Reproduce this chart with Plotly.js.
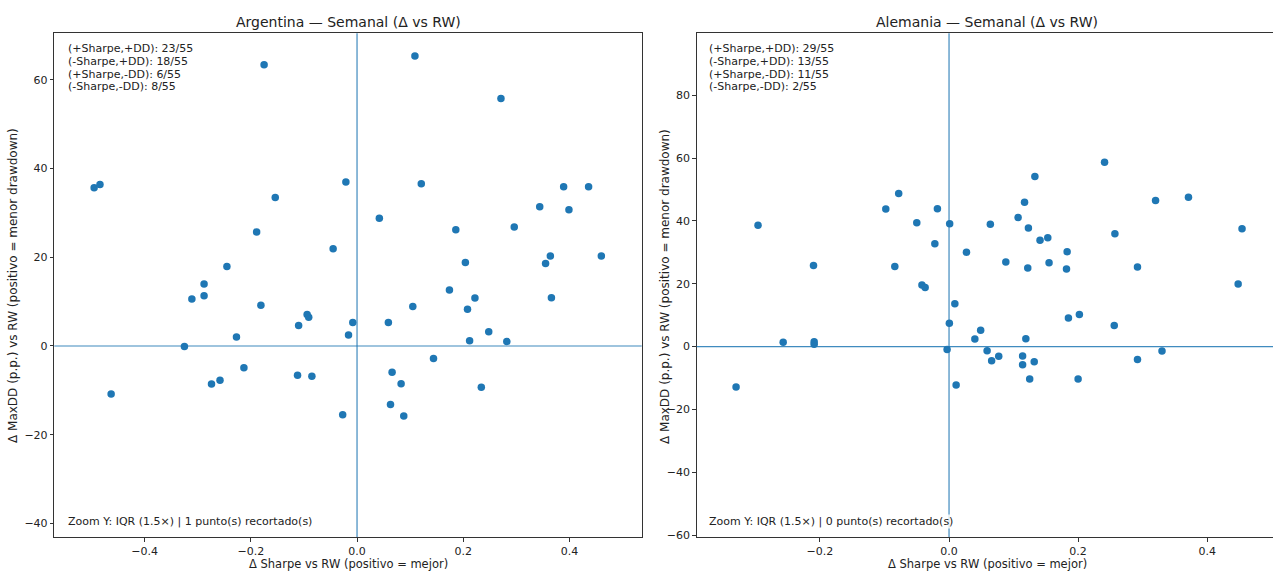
<!DOCTYPE html>
<html>
<head>
<meta charset="utf-8">
<script src="https://cdn.plot.ly/plotly-3.0.1.min.js"></script>
<style>html,body{margin:0;padding:0;background:#fff;}#chart{width:1273px;height:572px;}</style>
</head>
<body>
<div id="chart"></div>
<script>
// ---- Data ----
const argDeltaSharpe = [-0.495,-0.484,-0.175,-0.021,-0.154,-0.189,-0.045,-0.245,-0.288,
  0.109,0.271,0.121,0.042,0.389,0.436,0.344,0.399,0.186,0.296,0.364,0.355,0.460,0.204,
  -0.288,-0.311,-0.181,-0.110,-0.094,-0.091,-0.008,-0.016,-0.227,-0.325,
  -0.213,-0.258,-0.274,-0.112,-0.085,-0.463,-0.027,
  0.059,0.105,0.174,0.222,0.208,0.366,0.248,0.212,0.282,
  0.144,0.066,0.083,0.234,0.063,0.088];
const argDeltaMaxDD = [35.7,36.4,63.4,37.0,33.5,25.7,21.9,17.9,14.0,
  65.4,55.8,36.6,28.8,35.9,35.9,31.4,30.7,26.2,26.8,20.3,18.6,20.3,18.8,
  11.3,10.6,9.2,4.6,7.1,6.5,5.3,2.5,2.0,-0.1,
  -4.9,-7.7,-8.6,-6.6,-6.8,-10.8,-15.5,
  5.3,8.9,12.6,10.8,8.3,10.9,3.2,1.2,1.0,
  -2.8,-5.9,-8.5,-9.3,-13.2,-15.8];

const aleDeltaSharpe = [-0.078,-0.098,-0.018,-0.050,0.001,-0.296,-0.022,0.027,-0.210,-0.084,
  -0.042,-0.037,0.009,0.0005,0.049,0.040,-0.257,-0.209,-0.209,-0.003,0.011,-0.330,
  0.241,0.133,0.117,0.320,0.371,0.107,0.064,0.123,0.454,0.141,0.153,0.257,0.183,
  0.088,0.155,0.122,0.182,0.292,0.448,
  0.202,0.185,0.256,0.119,0.059,0.330,0.066,0.077,0.114,0.114,0.132,0.292,0.125,0.200];
const aleDeltaMaxDD = [48.7,43.8,43.9,39.4,39.1,38.6,32.7,30.0,25.8,25.5,
  19.6,18.8,13.6,7.4,5.2,2.4,1.4,1.5,0.75,-0.95,-12.2,-12.9,
  58.7,54.1,45.9,46.5,47.5,41.1,38.9,37.7,37.5,33.8,34.6,35.9,30.2,
  26.9,26.7,25.0,24.7,25.3,19.9,
  10.2,9.1,6.7,2.5,-1.3,-1.4,-4.5,-3.1,-3.0,-5.8,-4.8,-4.1,-10.3,-10.3];

const panelTitles = ["Argentina — Semanal (Δ vs RW)", "Alemania — Semanal (Δ vs RW)"];
const argQuadrants = ["(+Sharpe,+DD): 23/55", "(-Sharpe,+DD): 18/55", "(+Sharpe,-DD): 6/55", "(-Sharpe,-DD): 8/55"];
const aleQuadrants = ["(+Sharpe,+DD): 29/55", "(-Sharpe,+DD): 13/55", "(+Sharpe,-DD): 11/55", "(-Sharpe,-DD): 2/55"];
const zoomNotes = ["Zoom Y: IQR (1.5×) | 1 punto(s) recortado(s)", "Zoom Y: IQR (1.5×) | 0 punto(s) recortado(s)"];
const xTitle = "Δ Sharpe vs RW (positivo = mejor)";
const yTitle = "Δ MaxDD (p.p.) vs RW (positivo = menor drawdown)";
const xTicks = [-0.4, -0.2, 0, 0.2, 0.4];

// ---- Styling ----
const W = 1273, H = 572;
const FONT = "DejaVu Sans, Liberation Sans, sans-serif";
const C0 = "#1f77b4";
const TXT = "#222";
const px = v => v / W;
const py = v => 1 - v / H;

const traces = [
  {x: argDeltaSharpe, y: argDeltaMaxDD, xaxis: "x", yaxis: "y", type: "scatter", mode: "markers",
   marker: {color: C0, size: 7.5}, hoverinfo: "x+y", showlegend: false},
  {x: aleDeltaSharpe, y: aleDeltaMaxDD, xaxis: "x2", yaxis: "y2", type: "scatter", mode: "markers",
   marker: {color: C0, size: 7.5}, hoverinfo: "x+y", showlegend: false}
];

const axBase = {
  showgrid: false, zeroline: false, showline: true, linecolor: "#333", linewidth: 1,
  ticks: "outside", ticklen: 3.5, tickwidth: 1, tickcolor: "#333",
  tickfont: {family: FONT, size: 11, color: TXT}
};
const yDom = [1 - 537 / H, 1 - 33.3 / H];

const layout = {
  width: W, height: H,
  margin: {l: 0, r: 0, t: 0, b: 0},
  paper_bgcolor: "#fff", plot_bgcolor: "#fff",
  showlegend: false,
  font: {family: FONT, color: TXT},
  xaxis: Object.assign({}, axBase, {domain: [px(54.3), px(641.7)], range: [-0.570, 0.536], anchor: "y",
    tickvals: xTicks, tickformat: ".1f", mirror: true}),
  yaxis: Object.assign({}, axBase, {domain: yDom, range: [-43.07, 70.5], anchor: "x", dtick: 20, mirror: true}),
  xaxis2: Object.assign({}, axBase, {domain: [px(696.7), 1], range: [-0.391, 0.502], anchor: "y2",
    tickvals: xTicks, tickformat: ".1f", mirror: true}),
  yaxis2: Object.assign({}, axBase, {domain: yDom, range: [-60.6, 99.7], anchor: "x2", dtick: 20, mirror: false}),
  shapes: [
    {type: "line", xref: "x domain", yref: "y", x0: 0, x1: 1, y0: 0, y1: 0, line: {color: C0, width: 1.2}, opacity: 0.85},
    {type: "line", xref: "x", yref: "y domain", x0: 0, x1: 0, y0: 0, y1: 1, line: {color: C0, width: 1.2}, opacity: 0.85},
    {type: "line", xref: "x2 domain", yref: "y2", x0: 0, x1: 1, y0: 0, y1: 0, line: {color: C0, width: 1.2}, opacity: 0.85},
    {type: "line", xref: "x2", yref: "y2 domain", x0: 0, x1: 0, y0: 0, y1: 1, line: {color: C0, width: 1.2}, opacity: 0.85}
  ],
  annotations: []
};

// panel titles
[[348, panelTitles[0]], [987, panelTitles[1]]].forEach(([cx, t]) => {
  layout.annotations.push({xref: "paper", yref: "paper", x: px(cx), y: py(22), xanchor: "center", yanchor: "middle",
    text: t, showarrow: false, font: {family: FONT, size: 14, color: TXT}});
});
// axis titles
[348, 987].forEach(cx => layout.annotations.push({xref: "paper", yref: "paper", x: px(cx), y: 0,
  xanchor: "center", yanchor: "bottom", text: xTitle, showarrow: false, borderpad: 0,
  font: {family: FONT, size: 11.5, color: TXT}}));
[13, 665].forEach(cx => layout.annotations.push({xref: "paper", yref: "paper", x: px(cx), y: py(286),
  xanchor: "center", yanchor: "middle", textangle: -90, text: yTitle, showarrow: false,
  font: {family: FONT, size: 12, color: TXT}}));
// quadrant counts
const lineY = [48.3, 61.2, 74.0, 86.8];
[[66.7, argQuadrants], [707.7, aleQuadrants]].forEach(([lx, arr]) => {
  arr.forEach((t, i) => {
    layout.annotations.push({xref: "paper", yref: "paper", x: px(lx), y: py(lineY[i]), xanchor: "left", yanchor: "middle",
      text: t, showarrow: false, bgcolor: "rgba(255,255,255,0.8)", borderpad: 0,
      font: {family: FONT, size: 11, color: TXT}});
  });
});
// zoom notes
[[66.7, zoomNotes[0]], [707.7, zoomNotes[1]]].forEach(([lx, t]) => {
  layout.annotations.push({xref: "paper", yref: "paper", x: px(lx), y: py(521), xanchor: "left", yanchor: "middle",
    text: t, showarrow: false, bgcolor: "rgba(255,255,255,0.8)", borderpad: 0,
    font: {family: FONT, size: 11, color: TXT}});
});

Plotly.newPlot("chart", traces, layout, {displayModeBar: false, staticPlot: true});
</script>
</body>
</html>
